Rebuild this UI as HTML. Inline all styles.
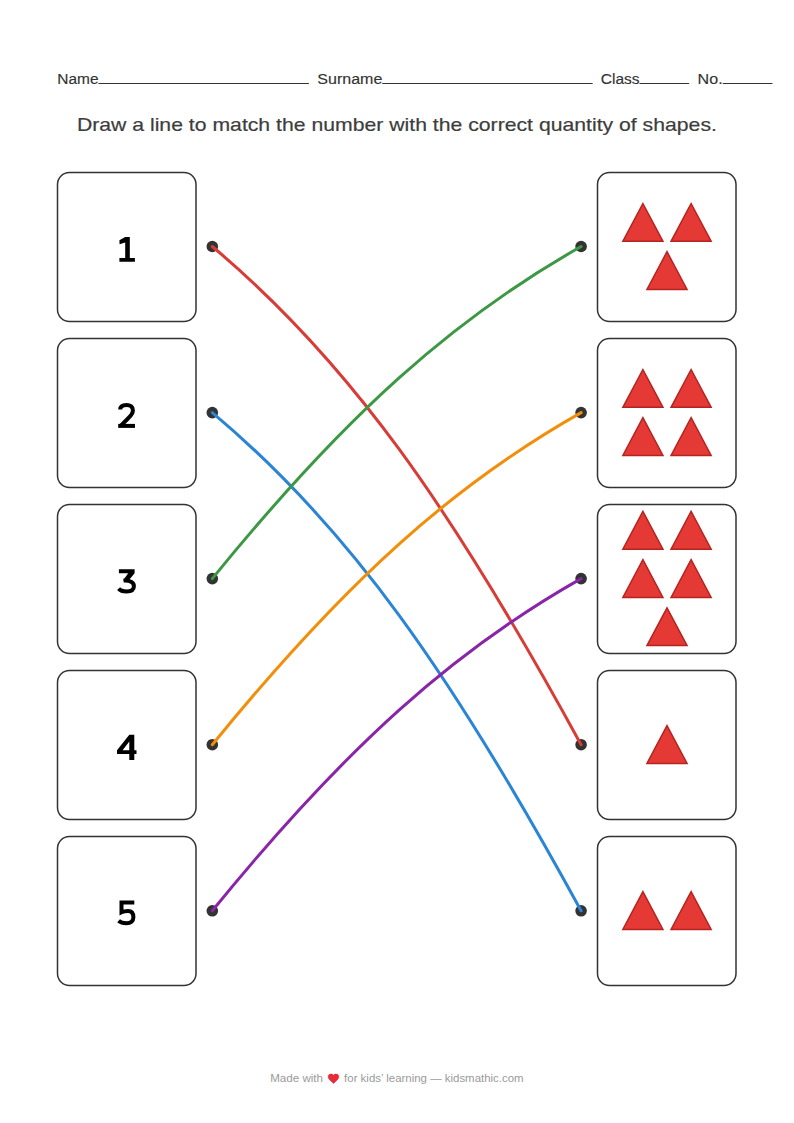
<!DOCTYPE html>
<html><head><meta charset="utf-8"><style>
html,body{margin:0;padding:0;background:#fff;}
body{width:794px;height:1123px;position:relative;overflow:hidden;font-family:"Liberation Sans",sans-serif;}
svg{position:absolute;left:0;top:0;}
</style></head><body>
<svg width="794" height="1123" viewBox="0 0 794 1123">
<text x="57.3" y="84" font-family="Liberation Sans, sans-serif" font-size="15.5" fill="#333" textLength="41.2" lengthAdjust="spacingAndGlyphs" stroke="#333" stroke-width="0.15">Name</text><text x="317.3" y="84" font-family="Liberation Sans, sans-serif" font-size="15.5" fill="#333" textLength="65" lengthAdjust="spacingAndGlyphs" stroke="#333" stroke-width="0.15">Surname</text><text x="600.8" y="84" font-family="Liberation Sans, sans-serif" font-size="15.5" fill="#333" textLength="38.8" lengthAdjust="spacingAndGlyphs" stroke="#333" stroke-width="0.15">Class</text><text x="697.6" y="84" font-family="Liberation Sans, sans-serif" font-size="15.5" fill="#333" textLength="25" lengthAdjust="spacingAndGlyphs" stroke="#333" stroke-width="0.15">No.</text>
<g stroke="#333" stroke-width="1">
<line x1="98.4" y1="83.5" x2="308.9" y2="83.5"/>
<line x1="382.2" y1="83.5" x2="592.7" y2="83.5"/>
<line x1="639.5" y1="83.5" x2="689.2" y2="83.5"/>
<line x1="722.8" y1="83.5" x2="772.5" y2="83.5"/>
</g>
<text x="76.9" y="130.8" font-family="Liberation Sans, sans-serif" font-size="19" fill="#3d3d3d" textLength="640" lengthAdjust="spacingAndGlyphs" stroke="#3d3d3d" stroke-width="0.2">Draw a line to match the number with the correct quantity of shapes.</text>
<g fill="#fff" stroke="#333" stroke-width="1.5">
<rect x="57.5" y="172.5" width="138.5" height="149" rx="12"/><rect x="597.5" y="172.5" width="138.5" height="149" rx="12"/><rect x="57.5" y="338.5" width="138.5" height="149" rx="12"/><rect x="597.5" y="338.5" width="138.5" height="149" rx="12"/><rect x="57.5" y="504.5" width="138.5" height="149" rx="12"/><rect x="597.5" y="504.5" width="138.5" height="149" rx="12"/><rect x="57.5" y="670.5" width="138.5" height="149" rx="12"/><rect x="597.5" y="670.5" width="138.5" height="149" rx="12"/><rect x="57.5" y="836.5" width="138.5" height="149" rx="12"/><rect x="597.5" y="836.5" width="138.5" height="149" rx="12"/>
</g>

<path fill="#000" d="M119.4 240.2 L125.2 236.9 L129.8 236.9 L129.8 258 L134.9 258 L134.9 261.7 L119.4 261.7 L119.4 258 L125.2 258 L125.2 242.6 L119.6 244.3 Z"/>
<g fill="none" stroke="#000" stroke-width="4" stroke-linejoin="round">
<path d="M120.2 409.6 C120.2 406 123.2 404.9 126.5 404.9 C130.5 404.9 132.9 407 132.9 410.3 C132.9 413.5 131 415.8 128 418.5 L120.6 425.9" stroke-linejoin="miter"/>
<path d="M118.2 425.9 H135"/>
<path fill="#000" stroke="none" d="M118.9 569.2 H134.6 V573.3 L128.6 580.6 H123 L128.2 573.3 H118.9 Z"/><path d="M123.6 580.6 C131 580.3 133.9 582.6 133.9 586.2 C133.9 590 130.8 591.4 126.5 591.4 C123 591.4 120.3 590.6 118.6 588.6"/>
<path d="M134.3 902.6 H121.5 V912.3 C123.5 911.3 126 911 128 911 C132 911 133.4 914 133.4 917.3 C133.4 921 130.8 923.3 126.5 923.3 C123.2 923.3 120.5 922.6 118.6 920.8" stroke-linejoin="miter"/>
</g>
<path fill="#000" fill-rule="evenodd" d="M117 750.2 L129.3 734.8 L134.3 734.8 L134.3 750.2 L136.5 750.2 L136.5 754 L134.3 754 L134.3 760 L129.3 760 L129.3 754 L117 754 Z M122.6 750.2 L129.3 741.6 L129.3 750.2 Z"/>

<g fill="#e53935" stroke="#b52420" stroke-width="1.5" stroke-linejoin="miter">
<polygon points="642.90,203.50 662.95,241.30 622.85,241.30"/><polygon points="691.10,203.50 711.15,241.30 671.05,241.30"/><polygon points="667.00,251.70 687.05,289.50 646.95,289.50"/><polygon points="642.90,369.50 662.95,407.30 622.85,407.30"/><polygon points="691.10,369.50 711.15,407.30 671.05,407.30"/><polygon points="642.90,417.70 662.95,455.50 622.85,455.50"/><polygon points="691.10,417.70 711.15,455.50 671.05,455.50"/><polygon points="642.90,511.40 662.95,549.20 622.85,549.20"/><polygon points="691.10,511.40 711.15,549.20 671.05,549.20"/><polygon points="642.90,559.60 662.95,597.40 622.85,597.40"/><polygon points="691.10,559.60 711.15,597.40 671.05,597.40"/><polygon points="667.00,607.80 687.05,645.60 646.95,645.60"/><polygon points="667.00,725.60 687.05,763.40 646.95,763.40"/><polygon points="642.90,891.60 662.95,929.40 622.85,929.40"/><polygon points="691.10,891.60 711.15,929.40 671.05,929.40"/>
</g>
<g fill="#333">
<circle cx="212.3" cy="246.5" r="5.8"/><circle cx="581.1" cy="246.5" r="5.8"/><circle cx="212.3" cy="412.6" r="5.8"/><circle cx="581.1" cy="412.6" r="5.8"/><circle cx="212.3" cy="578.6" r="5.8"/><circle cx="581.1" cy="578.6" r="5.8"/><circle cx="212.3" cy="744.7" r="5.8"/><circle cx="581.1" cy="744.7" r="5.8"/><circle cx="212.3" cy="910.8" r="5.8"/><circle cx="581.1" cy="910.8" r="5.8"/>
</g>
<g fill="none" stroke-width="3" stroke-linecap="round">
<path d="M212.3 246.5 C349.2 361.6 451.2 506.6 581.1 744.7" stroke="#d83c37"/><path d="M212.3 412.6 C349.2 527.6 451.2 672.7 581.1 910.8" stroke="#2a85d6"/><path d="M212.3 578.6 C346.2 413.9 454.2 318.2 581.1 246.5" stroke="#3d9845"/><path d="M212.3 744.7 C346.2 580.0 454.2 484.3 581.1 412.6" stroke="#f18f0c"/><path d="M212.3 910.8 C346.2 746.1 454.2 650.4 581.1 578.6" stroke="#8926a8"/>
</g>
<text x="270.2" y="1081.8" font-family="Liberation Sans, sans-serif" font-size="11.3" fill="#9a9a9a" textLength="52.8" lengthAdjust="spacingAndGlyphs" >Made with</text><path transform="translate(327.9 1073.8)" fill="#ea2b38" stroke="#cf1f2c" stroke-width="0.5" d="M5.6 9.7 L1.4 5.6 C-0.3 4 -0.1 0.3 2.9 0.3 C4.3 0.3 5.1 0.8 5.6 1.4 C6.1 0.8 6.9 0.3 8.3 0.3 C11.3 0.3 11.5 4 9.8 5.6 Z"/><text x="344.1" y="1081.8" font-family="Liberation Sans, sans-serif" font-size="11.3" fill="#9a9a9a" textLength="179.5" lengthAdjust="spacingAndGlyphs" >for kids&#8217; learning &#8212; kidsmathic.com</text>
</svg>
</body></html>
